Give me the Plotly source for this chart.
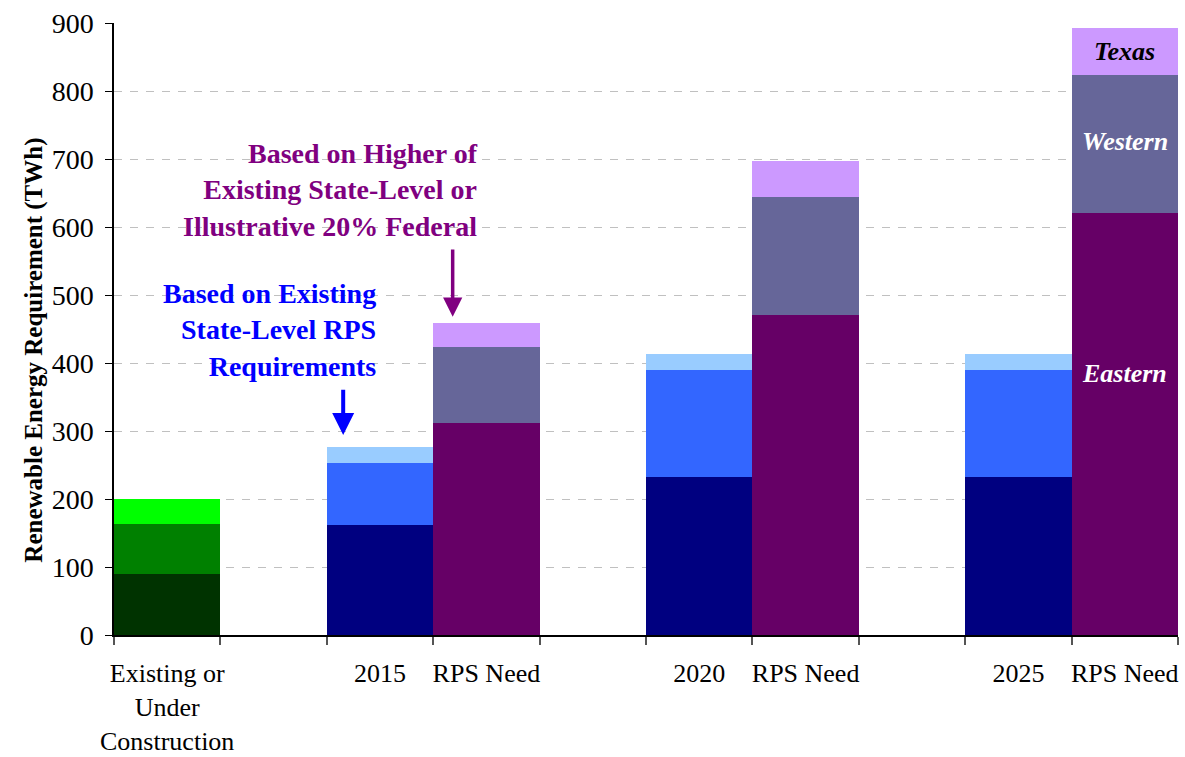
import plotly.graph_objects as go

# ---- data ----
slot_labels = ["Existing or<br>Under<br>Construction", "", "2015", "RPS Need", "",
               "2020", "RPS Need", "", "2025", "RPS Need"]
existing_segments = ["Existing", "Under Construction (1)", "Under Construction (2)"]
existing_values = [90, 73, 37]

years = ["2015", "2020", "2025"]
state_eastern = [162, 232, 232]
state_western = [91, 158, 158]
state_texas = [23, 23, 23]

rps_eastern = [312, 470, 621]
rps_western = [112, 174, 202]
rps_texas = [35, 53, 69]

FONT = "Liberation Serif, Times New Roman, serif"

year_x = [slot_labels.index(y) + 0.5 for y in years]
rps_x = [x + 1 for x in year_x]
exist_x = [0.5]

fig = go.Figure()
ex_colors = ["#003300", "#008000", "#00FF00"]
for name, v, c in zip(existing_segments, existing_values, ex_colors):
    fig.add_trace(go.Bar(x=exist_x, y=[v], name=name, width=1, marker=dict(color=c, line=dict(width=0))))

for name, vals, c in [("Eastern", state_eastern, "#000080"),
                      ("Western", state_western, "#3366FF"),
                      ("Texas", state_texas, "#99CCFF")]:
    fig.add_trace(go.Bar(x=year_x, y=vals, name="State " + name, width=1,
                         marker=dict(color=c, line=dict(width=0))))

for name, vals, c in [("Eastern", rps_eastern, "#660066"),
                      ("Western", rps_western, "#666699"),
                      ("Texas", rps_texas, "#CC99FF")]:
    fig.add_trace(go.Bar(x=rps_x, y=vals, name="RPS " + name, width=1,
                         marker=dict(color=c, line=dict(width=0))))

# in-bar labels on last RPS bar
last = rps_x[-1]
e, w, t = rps_eastern[-1], rps_western[-1], rps_texas[-1]
fig.add_annotation(x=last, y=e + w + t / 2, text="<b><i>Texas</i></b>", showarrow=False,
                   font=dict(family=FONT, size=26, color="black"))
fig.add_annotation(x=last, y=e + w * 0.52, text="<b><i>Western</i></b>", showarrow=False,
                   font=dict(family=FONT, size=26, color="white"))
fig.add_annotation(x=last, y=384, text="<b><i>Eastern</i></b>", showarrow=False,
                   font=dict(family=FONT, size=26, color="white"))

# callout texts
fig.add_annotation(x=3.437, y=654, xanchor="right", yanchor="middle", align="right",
                   text="<b>Based on Higher of<br>Existing State-Level or<br>Illustrative 20% Federal</b>",
                   showarrow=False, font=dict(family=FONT, size=28, color="#800080"))
fig.add_annotation(x=2.478, y=448, xanchor="right", yanchor="middle", align="right",
                   text="<b>Based on Existing<br>State-Level RPS<br>Requirements</b>",
                   showarrow=False, font=dict(family=FONT, size=28, color="#0000FF"))
# arrows
fig.add_annotation(x=3.183, y=468, ax=3.183, ay=569, xref="x", yref="y", axref="x", ayref="y",
                   text="", showarrow=True, arrowhead=2, arrowsize=1.1, arrowwidth=3.5,
                   arrowcolor="#800080")
fig.add_annotation(x=2.154, y=294, ax=2.154, ay=363, xref="x", yref="y", axref="x", ayref="y",
                   text="", showarrow=True, arrowhead=2, arrowsize=1.1, arrowwidth=4,
                   arrowcolor="#0000FF")

# y-axis title
fig.add_annotation(xref="paper", yref="paper", x=(18 - 114.3) / 1063.7, y=(635 - 350) / 612,
                   text="<b>Renewable Energy Requirement (TWh)</b>", textangle=-90,
                   showarrow=False, font=dict(family=FONT, size=25, color="black"))

tick_vals = [i + 0.5 for i, l in enumerate(slot_labels) if l]
tick_text = [l for l in slot_labels if l]

fig.update_layout(
    width=1185, height=757,
    margin=dict(l=114, r=7, t=23, b=122),
    paper_bgcolor="white", plot_bgcolor="white",
    barmode="stack", bargap=0, showlegend=False,
    font=dict(family=FONT, size=28, color="black"),
    xaxis=dict(range=[0, len(slot_labels)], tickmode="array", tickvals=tick_vals, ticktext=tick_text,
               ticks="", showgrid=False, showline=True, linecolor="black", linewidth=1.5,
               tickfont=dict(family=FONT, size=26), ticklabelstandoff=14, automargin=False,
               minor=dict(tickmode="linear", tick0=0, dtick=1, ticks="outside", ticklen=8,
                          tickcolor="#555555", tickwidth=1.5, showgrid=False),
               zeroline=False),
    yaxis=dict(range=[0, 900], tickmode="linear", tick0=0, dtick=100, ticks="outside", ticklen=7,
               tickcolor="black", showline=True, linecolor="black", linewidth=1.5,
               showgrid=True, gridcolor="#C0C0C0", griddash="8px,8px", gridwidth=1,
               zeroline=False, tickfont=dict(family=FONT, size=28), ticklabelstandoff=6,
               automargin=False),
)

fig.write_html("out.html", config={"displayModeBar": False},
               post_script="document.body.style.margin='0';document.body.style.overflow='hidden';")
